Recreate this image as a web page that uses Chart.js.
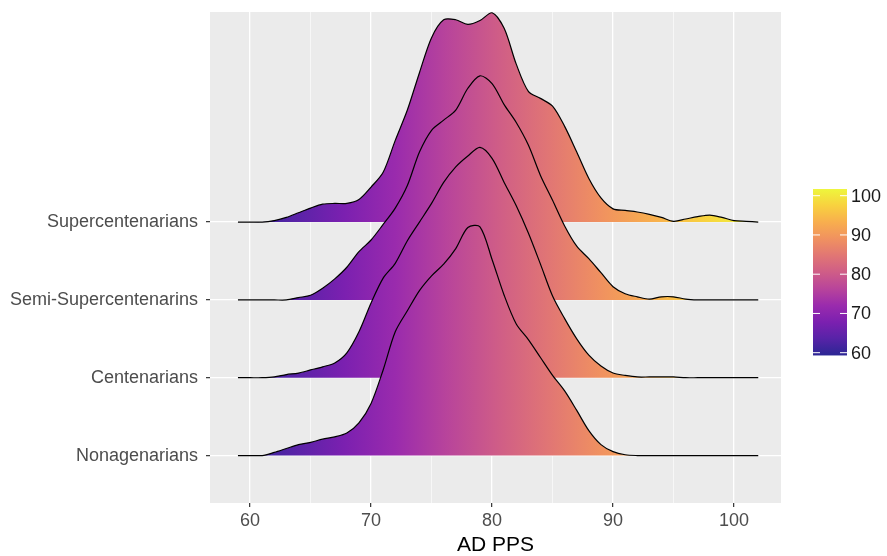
<!DOCTYPE html>
<html lang="en">
<head>
    <meta charset="UTF-8">
    <title>AD PPS ridgeline</title>
    <style>
        body {
            margin: 0;
            background: #ffffff;
            font-family: "Liberation Sans", Arial, sans-serif;
        }
        .wrap {
            width: 887px;
            height: 556px;
        }
    </style>
</head>
<body>
    <div class="wrap">
        <canvas id="ridgeChart"></canvas>
    </div>
    <script src="https://cdn.jsdelivr.net/npm/chart.js"></script>
    <script>
        // x grid the densities were read at (AD PPS)
        const ppsGrid = [59, 60, 61, 62, 63, 64, 65, 66, 67, 68, 69, 70, 71, 72, 73, 74, 75, 76, 77, 78, 79, 80,
            81, 82, 83, 84, 85, 86, 87, 88, 89, 90, 91, 92, 93, 94, 95, 96, 97, 98, 99, 100, 101, 102];

        // ridge heights, in units of the gap between two ridges
        const nonaDensity = [0, 0, 0, 0.04, 0.09, 0.14, 0.17, 0.21, 0.24, 0.29, 0.42, 0.67, 1.10, 1.59, 1.86, 2.12, 2.31, 2.46, 2.66, 2.93, 2.94, 2.52,
            2.06, 1.69, 1.49, 1.26, 1.03, 0.83, 0.58, 0.32, 0.14, 0.05, 0.01, 0, 0, 0, 0, 0, 0, 0, 0, 0, 0, 0];
        const centDensity = [0, 0, 0, 0.01, 0.04, 0.06, 0.10, 0.14, 0.19, 0.32, 0.59, 0.96, 1.28, 1.47, 1.76, 2.00, 2.24, 2.51, 2.71, 2.85, 2.96, 2.82,
            2.51, 2.21, 1.86, 1.46, 1.05, 0.76, 0.50, 0.29, 0.15, 0.06, 0.03, 0.01, 0.01, 0.01, 0.01, 0, 0, 0, 0, 0, 0, 0];
        const semiDensity = [0, 0, 0, 0, 0, 0.03, 0.06, 0.15, 0.27, 0.42, 0.62, 0.77, 0.97, 1.18, 1.47, 1.90, 2.18, 2.31, 2.44, 2.72, 2.88, 2.78,
            2.51, 2.28, 1.99, 1.60, 1.28, 0.95, 0.69, 0.53, 0.35, 0.17, 0.08, 0.04, 0.01, 0.04, 0.04, 0.01, 0, 0, 0, 0, 0, 0];
        const superDensity = [0, 0, 0, 0.02, 0.06, 0.12, 0.18, 0.23, 0.24, 0.24, 0.29, 0.45, 0.64, 1.05, 1.44, 1.92, 2.37, 2.60, 2.60, 2.54, 2.59, 2.69,
            2.49, 2.03, 1.68, 1.59, 1.49, 1.23, 0.90, 0.56, 0.31, 0.17, 0.15, 0.13, 0.10, 0.06, 0.01, 0.04, 0.07, 0.09, 0.06, 0.02, 0.01, 0];

        // bottom to top
        const ridgeNames = ['Nonagenarians', 'Centenarians', 'Semi-Supercentenarins', 'Supercentenarians'];
        const ridgeDensities = [nonaDensity, centDensity, semiDensity, superDensity];

        const xTickValues = [60, 65, 70, 75, 80, 85, 90, 95, 100];
        const colourTicks = [60, 70, 80, 90, 100];
        const colourLimits = [59.3, 101.7];

        // plasma palette, evenly spaced from low to high
        const plasma = ['#0D0887', '#41049D', '#6A00A8', '#8F0DA4', '#B12A90', '#CC4778',
            '#E16462', '#F2844B', '#FCA636', '#FCCE25', '#F0F921'];

        // the reference looks a little washed out, so soften the palette a bit
        function soften(hex, k) {
            const n = parseInt(hex.slice(1), 16);
            const mix = c => Math.round(c * (1 - k) + 225 * k);
            return 'rgb(' + mix(n >> 16) + ',' + mix((n >> 8) & 255) + ',' + mix(n & 255) + ')';
        }
        const palette = plasma.map(c => soften(c, 0.14));

        function addStops(g) {
            palette.forEach((c, i) => g.addColorStop(i / (palette.length - 1), c));
            return g;
        }

        function fillGradient(context) {
            const chart = context.chart;
            if (!chart.chartArea) return palette[5];
            const xs = chart.scales.x;
            const x0 = xs.getPixelForValue(colourLimits[0]);
            const x1 = xs.getPixelForValue(colourLimits[1]);
            return addStops(chart.ctx.createLinearGradient(x0, 0, x1, 0));
        }

        const datasets = ridgeNames.map((name, i) => ({
            label: name,
            data: ppsGrid.map((x, j) => ({ x: x, y: i + 1 + ridgeDensities[i][j] })),
            borderColor: '#000000',
            borderWidth: 1.2,
            backgroundColor: fillGradient,
            fill: { value: i + 1 },
            pointRadius: 0,
            tension: 0.3
        }));

        const panelBg = {
            id: 'panelBg',
            beforeDraw(chart) {
                const { ctx, chartArea: a } = chart;
                ctx.save();
                ctx.fillStyle = '#EBEBEB';
                ctx.fillRect(a.left, a.top, a.right - a.left, a.bottom - a.top);
                ctx.restore();
            }
        };

        // colour bar legend on the right
        const colourBar = {
            id: 'colourBar',
            afterDraw(chart) {
                const { ctx, chartArea: a } = chart;
                const left = a.right + 32;
                const w = 34;
                const px60 = 352.7, pxPerUnit = 3.925;
                const toY = v => px60 - (v - 60) * pxPerUnit;
                const top = toY(colourLimits[1]);
                const bottom = toY(colourLimits[0]);
                ctx.save();
                ctx.fillStyle = addStops(ctx.createLinearGradient(0, bottom, 0, top));
                ctx.fillRect(left, top, w, bottom - top);
                ctx.strokeStyle = '#ffffff';
                ctx.lineWidth = 1;
                ctx.font = '18px "Liberation Sans", Arial, sans-serif';
                ctx.fillStyle = '#1A1A1A';
                ctx.textAlign = 'left';
                ctx.textBaseline = 'middle';
                colourTicks.forEach(v => {
                    const y = toY(v);
                    ctx.beginPath();
                    ctx.moveTo(left, y); ctx.lineTo(left + 7, y);
                    ctx.moveTo(left + w - 7, y); ctx.lineTo(left + w, y);
                    ctx.stroke();
                    ctx.fillText(String(v), left + w + 4, y + 1);
                });
                ctx.restore();
            }
        };

        new Chart(document.getElementById('ridgeChart'), {
            type: 'line',
            data: { datasets: datasets },
            options: {
                responsive: true,
                maintainAspectRatio: false,
                animation: false,
                layout: { padding: { left: 0, right: 106, top: 12, bottom: 0 } },
                plugins: {
                    legend: { display: false },
                    tooltip: { enabled: false }
                },
                scales: {
                    x: {
                        type: 'linear',
                        min: 56.69,
                        max: 103.88,
                        afterBuildTicks: s => { s.ticks = xTickValues.map(v => ({ value: v })); },
                        afterFit: s => { s.height = 53; s.paddingLeft = 0; s.paddingRight = 0; },
                        border: { display: false },
                        grid: {
                            color: '#ffffff',
                            lineWidth: c => (c.tick && c.tick.value % 10 === 0 ? 1.3 : 0.6),
                            tickColor: c => (c.tick && c.tick.value % 10 === 0 ? '#333333' : 'rgba(0,0,0,0)'),
                            tickLength: 4,
                            tickWidth: 1.2
                        },
                        ticks: {
                            autoSkip: false,
                            maxRotation: 0,
                            padding: 3,
                            color: '#4D4D4D',
                            font: { size: 18, family: '"Liberation Sans", Arial, sans-serif' },
                            callback: v => (v % 10 === 0 ? String(v) : '')
                        },
                        title: {
                            display: true,
                            text: 'AD PPS',
                            color: '#000000',
                            padding: { top: 0, bottom: 0 },
                            font: { size: 21, lineHeight: 1.0, family: '"Liberation Sans", Arial, sans-serif' }
                        }
                    },
                    y: {
                        type: 'linear',
                        min: 0.39,
                        max: 6.70,
                        afterBuildTicks: s => { s.ticks = ridgeNames.map((n, i) => ({ value: i + 1 })); },
                        afterFit: s => { s.width = 210; s.paddingTop = 0; s.paddingBottom = 0; },
                        border: { display: false },
                        grid: {
                            color: '#ffffff',
                            lineWidth: 1.3,
                            tickColor: '#333333',
                            tickLength: 4,
                            tickWidth: 1.2
                        },
                        ticks: {
                            autoSkip: false,
                            padding: 8,
                            color: '#4D4D4D',
                            font: { size: 18, family: '"Liberation Sans", Arial, sans-serif' },
                            callback: v => ridgeNames[Math.round(v) - 1]
                        }
                    }
                }
            },
            plugins: [panelBg, colourBar]
        });
    </script>
</body>
</html>
